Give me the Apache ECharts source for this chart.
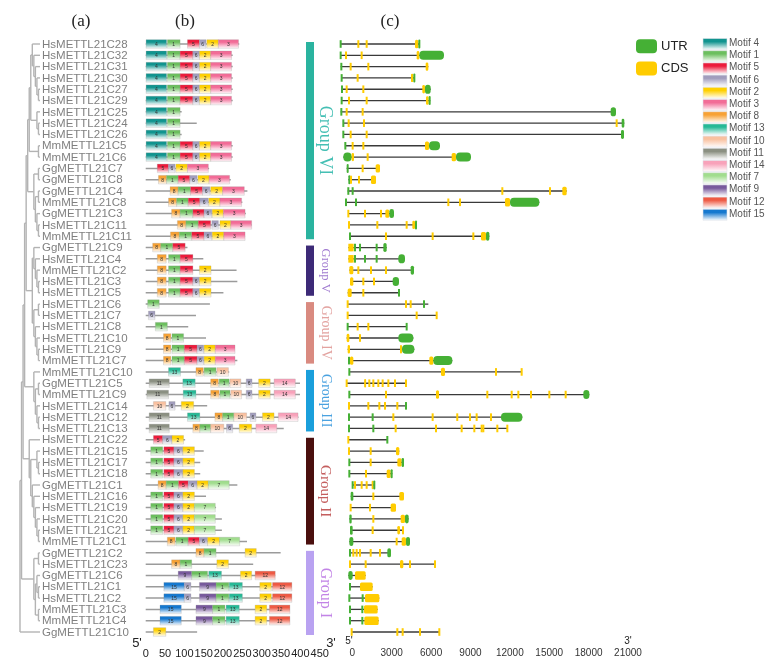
<!DOCTYPE html>
<html><head><meta charset="utf-8">
<script src="https://cdn.jsdelivr.net/npm/echarts@6/dist/echarts.min.js"></script>
<style>html,body{margin:0;padding:0;background:#fff}#c{width:779px;height:671px}</style>
</head><body><div id="c"></div><script>
// ---------------- DATA ----------------
const geneNames = ['HsMETTL21C28','HsMETTL21C32','HsMETTL21C31','HsMETTL21C30','HsMETTL21C27','HsMETTL21C29','HsMETTL21C25','HsMETTL21C24','HsMETTL21C26','MmMETTL21C5','MmMETTL21C6','GgMETTL21C7','GgMETTL21C8','GgMETTL21C4','MmMETTL21C8','GgMETTL21C3','HsMETTL21C11','MmMETTL21C11','GgMETTL21C9','HsMETTL21C4','MmMETTL21C2','HsMETTL21C3','HsMETTL21C5','HsMETTL21C6','HsMETTL21C7','HsMETTL21C8','HsMETTL21C10','HsMETTL21C9','MmMETTL21C7','MmMETTL21C10','GgMETTL21C5','MmMETTL21C9','HsMETTL21C14','HsMETTL21C12','HsMETTL21C13','HsMETTL21C22','HsMETTL21C15','HsMETTL21C17','HsMETTL21C18','GgMETTL21C1','HsMETTL21C16','HsMETTL21C19','HsMETTL21C20','HsMETTL21C21','MmMETTL21C1','GgMETTL21C2','HsMETTL21C23','GgMETTL21C6','HsMETTL21C1','HsMETTL21C2','MmMETTL21C3','MmMETTL21C4','GgMETTL21C10'];

// phylogenetic tree topology (leaf = row index)
const cladeVIa = [0,[1,[2,[3,[4,5]]]]];
const cladeVIb = [6,[7,8]];
const cladeVIc = [[cladeVIa, cladeVIb],[9,10]];
const cladeVId = [[11,12],[[13,14],[15,[16,17]]]];
const cladeVI = [cladeVIc, cladeVId];
const cladeV = [18,[19,[20,[21,22]]]];
const cladeIV = [[23,24],[25,[26,[27,28]]]];
const cladeIII = [29,[[30,31],[32,[33,34]]]];
const cladeII = [35,[[36,[37,38]],[39,[40,[41,[42,[43,44]]]]]]];
const cladeI = [[45,46],[[47,[48,49]],[50,51]]];
const cladeUpper = [[cladeVI,[cladeV,cladeIV]],cladeIII];
const treeRoot = [[[cladeUpper,cladeII],cladeI],52];

// protein lengths (aa)
const proteinLength = [242,225,225,225,225,225,93,132,93,225,225,164,220,263,250,259,274,257,108,149,235,237,201,166,130,110,156,231,237,216,399,399,159,395,357,102,150,141,141,237,156,182,197,197,262,349,278,335,378,378,373,373,133];

// motif hits per protein: [motif, start, end]
const mFull = [[4,1,54],[1,56,89],[5,89,122],[6,122,139],[2,139,168],[3,168,222]];
const mShort = [[4,1,54],[1,56,89]];
const mII = [[1,13,44],[5,47,73],[6,73,96],[2,96,126]];
const mII7 = [[1,13,44],[5,47,73],[6,73,96],[2,96,126],[7,126,180]];
const mV = [[8,30,53],[1,59,89],[5,89,122],[6,122,139],[2,139,169]];
const mIV = [[8,46,65],[1,68,100],[5,100,133],[6,133,150],[2,151,180],[3,180,231]];
const mHs12 = [[15,47,100],[6,100,117],[9,139,182],[1,182,215],[13,216,250],[2,295,325],[12,328,378]];
const mMm34 = [[15,37,92],[9,130,173],[1,173,205],[13,208,242],[2,283,313],[12,320,373]];
const motifHits = [
  [[4,1,54],[1,56,89],[5,108,139],[6,139,156],[2,158,188],[3,188,240]],
  mFull, mFull, mFull, mFull, mFull,
  mShort, mShort, mShort,
  mFull, mFull,
  [[5,30,59],[6,59,76],[2,78,108],[3,108,162]],
  [[8,33,54],[1,54,84],[5,84,114],[6,114,133],[2,135,164],[3,164,217]],
  [[8,63,84],[1,84,116],[5,116,147],[6,147,166],[2,168,199],[3,199,255]],
  [[8,59,80],[1,80,110],[5,110,140],[6,140,162],[2,163,192],[3,192,248]],
  [[8,67,89],[1,89,122],[5,122,151],[6,151,171],[2,172,201],[3,201,257]],
  [[8,82,104],[1,104,136],[5,136,168],[6,171,188],[2,192,220],[3,220,274]],
  [[8,64,87],[1,87,119],[5,119,151],[6,151,171],[2,172,202],[3,202,257]],
  [[8,18,39],[1,39,70],[5,70,102]],
  [[8,30,53],[1,59,89],[5,89,122]],
  [[8,30,53],[1,59,89],[5,89,122],[2,139,169]],
  mV, mV,
  [[1,5,35]],
  [[6,7,24]],
  [[1,25,56]],
  [[8,46,65],[1,68,98]],
  mIV, mIV,
  [[13,59,90],[8,130,149],[1,151,182],[10,184,214]],
  [[11,9,61],[13,96,128],[8,168,188],[1,190,216],[10,218,246],[6,260,275],[2,292,322],[14,332,387]],
  [[11,3,59],[13,97,130],[8,168,190],[1,192,218],[10,220,248],[6,260,275],[2,292,322],[14,332,387]],
  [[10,20,52],[6,60,76],[2,92,124]],
  [[11,9,61],[13,108,140],[8,179,199],[1,199,228],[10,228,261],[6,270,285],[2,302,332],[14,343,394]],
  [[11,9,61],[8,122,140],[1,140,168],[10,168,202],[6,209,225],[2,242,274],[14,285,339]],
  [[5,20,44],[6,44,68],[2,68,98]],
  mII, mII, mII,
  [[8,32,53],[1,53,85],[5,85,110],[6,110,133],[2,133,162],[7,162,216]],
  mII,
  mII7, mII7, mII7,
  [[8,56,76],[1,78,110],[5,110,139],[6,139,160],[2,160,191],[7,191,243]],
  [[8,130,151],[1,151,182],[2,257,286]],
  [[8,67,89],[1,89,119],[2,184,214]],
  [[9,84,119],[1,119,160],[13,163,196],[2,245,274],[12,283,335]],
  mHs12, mHs12,
  mMm34, mMm34,
  [[2,20,52]]
];

// gene structure (bp): span and exons ['U'|'C', start, end?]
const geneStart = [-937,-937,-886,-835,-785,-810,-886,-683,-683,-531,-683,-429,-302,-353,-480,-302,-252,-226,-302,-302,-226,-175,-353,-353,-353,-353,-429,-353,-252,-226,-429,-226,-252,-252,-252,-302,-252,-226,-226,27,-125,-125,-226,-175,-226,-175,-175,-302,-175,-226,-175,-175,-48];
const geneEnd = [5156,6985,5791,4776,5969,5943,20085,20720,20695,6680,9041,2110,1805,16328,14246,3176,4903,10438,2618,4014,4700,3557,3557,5791,6426,4141,4649,4725,7619,12901,4090,18055,4090,12951,11809,2668,3582,3938,3049,1653,3938,3328,4293,3938,4395,2948,6299,1018,1551,2059,1932,2008,6629];
const geneExons = [
  [['U',-886],['C',459],['C',1094],['C',4776,5030],['U',5030,5156]],
  [['U',-886],['C',-480],['C',713],['C',4903,5106],['U',5106,6985]],
  [['U',-835],['C',-125],['C',1221],['C',5588,5791]],
  [['U',-810],['C',408],['C',4471,4649],['U',4649,4776]],
  [['U',-785],['C',-429],['C',840],['C',5334,5537],['U',5537,5969]],
  [['U',-810],['C',-252],['C',1094],['C',5613,5817],['U',5817,5943]],
  [['U',-835],['C',-429],['C',789],['U',19680,20085]],
  [['U',-683],['C',-277],['C',891],['C',20137],['U',20518,20720]],
  [['U',-683],['C',-125],['C',1094],['U',20467,20695]],
  [['U',-531],['C',27],['C',840],['C',5537,5842],['U',5842,6680]],
  [['U',-683,-48],['C',-48,129],['C',1170],['C',7568,7898],['U',7898,9041]],
  [['U',-429,-277],['C',789],['C',1780,2110]],
  [['U',-302,-175],['C',-175,-99],['C',510],['C',1424,1805]],
  [['U',-302],['U',27],['C',11428],['C',15058],['C',15998,16328]],
  [['U',-480],['U',282],['C',7314],['C',8203],['C',11631,12012],['U',12012,14246]],
  [['C',-302],['C',967],['C',2186],['C',2516,2821],['U',2821,3176]],
  [['C',-252],['C',1906],['C',4141],['C',4573,4776],['U',4776,4903]],
  [['U',-175],['C',2567],['C',6121],['C',9219],['C',9803,10184],['U',10184,10438]],
  [['C',-226],['C',-99],['C',27],['U',205],['U',586],['U',1856],['U',2364,2618]],
  [['C',-226],['C',-99],['C',27],['U',205],['U',967],['U',1856],['U',3506,4014]],
  [['C',-226,79],['C',459],['C',1424],['C',2567],['U',4446,4700]],
  [['C',-175,79],['C',840],['C',1653],['U',3074,3557]],
  [['C',-353,-48],['C',840],['U',3557]],
  [['C',-353],['C',4090],['C',4446],['U',5461]],
  [['C',-353],['C',4903],['C',6426]],
  [['U',-353],['C',408],['C',1221],['U',4141]],
  [['C',-429,-226],['C',586],['U',3506,4649]],
  [['C',-353,-175],['C',3633,3786],['U',3786,4725]],
  [['U',-252],['C',-175,79],['C',5867,6172],['U',6172,7619]],
  [['U',-226],['C',6756,7060],['C',10946],['C',12901]],
  [['C',-429],['C',900,1050],['C',1297],['C',1602],['C',1983],['C',2313],['C',2745],['C',3252],['C',4090]],
  [['U',-226],['C',2567],['C',6375,6604],['C',10285],['C',12139],['C',12647],['C',13612],['C',15008],['C',16252],['U',17598,18055]],
  [['C',-252],['C',1221],['C',2059],['C',2491],['C',3430],['U',4090]],
  [['U',-252],['U',1551],['C',3125],['C',6121],['C',7995],['C',8965],['C',9473],['C',10564],['U',11326,12951]],
  [['U',-252],['U',1602],['C',3303],['C',6375],['C',8330],['C',9295],['C',9854],['C',9981],['C',11047],['C',11809]],
  [['C',-302],['U',2668]],
  [['C',-252],['C',1399],['C',3328,3582]],
  [['U',-226],['C',1399],['C',3430,3760],['U',3760,3938]],
  [['U',-226],['C',1043],['C',2618,2922],['U',2922,3049]],
  [['U',27],['C',205],['C',713],['C',1094],['C',1475,1600],['U',1600,1653]],
  [['U',-125,79],['C',1602],['C',3582,3938]],
  [['C',-125],['C',1348],['C',2922,3328]],
  [['U',-226,-48],['C',1602],['C',3684,4014],['U',4014,4293]],
  [['U',-175,27],['C',1551],['C',3430,3633],['C',3786,3938]],
  [['U',-226,79],['C',3379],['C',3760,4090],['U',4090,4395]],
  [['U',-175],['C',79],['C',332],['C',586],['C',1399],['C',2110],['U',2668,2948]],
  [['C',-175],['C',1018],['C',3633,3887],['C',4395],['C',6299]],
  [['U',-302,27],['C',205,1018]],
  [['U',-175],['C',586,1551]],
  [['U',-226],['U',789],['C',967,2059]],
  [['U',-175],['U',764],['C',891,1932]],
  [['U',-175],['U',764],['C',916,2008]],
  [['C',-48],['C',3430],['C',3836],['C',5156],['C',6629]]
];

// groups
const groupNames = ['Group VI','Group V','Group IV','Group III','Group II','Group I'];
const groupFirst = [0,18,23,29,35,45];
const groupLast = [17,22,28,34,44,52];

// motif legend order and axis ticks
const motifOrder = [4,1,5,6,2,3,8,13,10,11,14,7,9,12,15];
const motifTicks = [0,50,100,150,200,250,300,350,400,450];
const bpTicks = [0,3000,6000,9000,12000,15000,18000,21000];

// ---------------- STYLES ----------------
const motifColor = {4:'#11948f',1:'#6cbf5e',5:'#ec1b3b',6:'#a19dbd',2:'#ffd000',3:'#f26c97',8:'#f7a235',13:'#26b996',10:'#f9c1a0',11:'#8b9082',14:'#f8a2ba',7:'#a1dd8e',9:'#785a9c',12:'#ee5a44',15:'#1578cf'};
const groupStyle = [
  {bar:'#2ab39f', text:'#45bfb4', size:18},
  {bar:'#3d2a77', text:'#a07ad0', size:12.5},
  {bar:'#d98a80', text:'#e3a3a0', size:14},
  {bar:'#1a9fdb', text:'#4aa2e0', size:14},
  {bar:'#4a0f0e', text:'#c45e5e', size:15},
  {bar:'#b9a2f1', text:'#c284e6', size:16}
];
const UTR = '#45b035', CDS = '#ffcc00';
const SERIF = '"Liberation Serif","DejaVu Serif",serif';
const SANS = '"Liberation Sans",Arial,sans-serif';

function grad(c){
  return new echarts.graphic.LinearGradient(0,0,0,1,[
    {offset:0,color:c},{offset:0.3,color:c},{offset:1,color:'#ffffff'}]);
}

function height(n){ return Array.isArray(n) ? 1 + Math.max(...n.map(height)) : 0; }
const rootH = height(treeRoot);

const chart = echarts.init(document.getElementById('c'), null, {renderer:'canvas'});
const TOP = 44, H = 588;
const grids = [
  {left:20, width:20, top:TOP, height:H},
  {left:145.7, width:174, top:TOP, height:H},
  {left:352.3, width:275.7, top:TOP, height:H},
  {left:306, width:8, top:TOP, height:H}
];
const yAxes = grids.map((g,k)=>({type:'category', gridIndex:k, data:geneNames, inverse:true, boundaryGap:false, show:false}));

function renderTree(params, api){
  const els = [];
  const LS = {stroke:'#b3b3b3', lineWidth:1.4};
  function walk(n){
    if (!Array.isArray(n)) { const p = api.coord([0, n]); return {x:p[0], y:p[1]}; }
    const h = height(n);
    const kids = n.map(walk);
    const x = api.coord([-h, 0])[0];
    const ys = kids.map(k=>k.y);
    const y = (Math.min(...ys)+Math.max(...ys))/2;
    els.push({type:'line', shape:{x1:x,y1:Math.min(...ys),x2:x,y2:Math.max(...ys)}, style:LS});
    kids.forEach(k=>els.push({type:'line', shape:{x1:x,y1:k.y,x2:k.x,y2:k.y}, style:LS}));
    return {x, y};
  }
  walk(treeRoot);
  geneNames.forEach((g,i)=>{
    const p = api.coord([0,i]);
    els.push({type:'text', style:{x:p[0]+2, y:p[1]+0.5, text:g, fill:'#808080', fontSize:11.5, fontFamily:SANS, align:'left', verticalAlign:'middle'}});
  });
  return {type:'group', children:els};
}

function renderMotifs(params, api){
  const i = params.dataIndex;
  const p0 = api.coord([0,i]), p1 = api.coord([proteinLength[i], i]);
  const y = p0[1];
  const els = [{type:'line', shape:{x1:p0[0],y1:y,x2:p1[0],y2:y}, style:{stroke:'#9b9b9b', lineWidth:1.5}}];
  motifHits[i].forEach(([m,s,e])=>{
    const a = api.coord([s,i])[0], b = api.coord([e,i])[0];
    els.push({type:'rect', shape:{x:a, y:y-4.3, width:b-a, height:8.6}, style:{fill:grad(motifColor[m]), stroke:'rgba(140,140,140,0.45)', lineWidth:0.5}});
    els.push({type:'text', style:{x:(a+b)/2, y:y+0.5, text:String(m), fill:'#333', fontSize:5, fontFamily:SANS, align:'center', verticalAlign:'middle'}});
  });
  return {type:'group', children:els};
}

function renderGenes(params, api){
  const i = params.dataIndex;
  const a0 = api.coord([geneStart[i], i]), a1 = api.coord([geneEnd[i], i]);
  const y = a0[1];
  const els = [{type:'line', shape:{x1:a0[0],y1:y,x2:a1[0],y2:y}, style:{stroke:'#3a3a3a', lineWidth:1.3}}];
  geneExons[i].forEach(ex=>{
    const t = ex[0], col = t==='U'?UTR:CDS;
    const xa = api.coord([ex[1], i])[0];
    if (ex.length < 3) {
      els.push({type:'rect', shape:{x:xa-1, y:y-3.8, width:2, height:7.6}, style:{fill:col}});
    } else {
      const xb = api.coord([ex[2], i])[0];
      const w = Math.max(2, xb-xa);
      const hh = t==='U' ? 9 : 8.4;
      els.push({type:'rect', shape:{x:xa, y:y-hh/2, width:w, height:hh, r: t==='U' ? Math.min(4, w/2) : Math.min(1.5, w/2)}, style:{fill:col}});
    }
  });
  return {type:'group', children:els};
}

function renderGroups(params, api){
  const g = params.dataIndex;
  const st = groupStyle[g];
  const top = api.coord([0, groupFirst[g]])[1] - 2;
  const bot = api.coord([0, groupLast[g]])[1] + 3;
  const x0 = api.coord([0,0])[0], x1 = api.coord([1,0])[0];
  const tx = api.coord([2.4,0])[0];
  return {type:'group', children:[
    {type:'rect', shape:{x:x0, y:top, width:x1-x0, height:bot-top}, style:{fill:st.bar}},
    {type:'text', x:tx, y:(top+bot)/2, rotation:-Math.PI/2, style:{x:0, y:0, text:groupNames[g], fill:st.text, fontSize:st.size, fontFamily:SERIF, align:'center', verticalAlign:'middle'}}
  ]};
}

const legendEls = [];
motifOrder.forEach((m,k)=>{
  const y = 38.5 + k*12.2;
  legendEls.push({type:'rect', shape:{x:703, y:y, width:24, height:11}, style:{fill:grad(motifColor[m]), stroke:'#dfe3ea', lineWidth:0.6}});
  legendEls.push({type:'text', style:{x:729, y:y+4.8, text:'Motif '+m, fill:'#555', fontSize:10, fontFamily:SANS, align:'left', verticalAlign:'middle'}});
});
[['UTR',UTR,39.3],['CDS',CDS,61.5]].forEach(([t,c,y])=>{
  legendEls.push({type:'rect', shape:{x:636, y:y, width:21, height:14, r:4}, style:{fill:c}});
  legendEls.push({type:'text', style:{x:661, y:y+7, text:t, fill:'#222', fontSize:13, fontFamily:SANS, align:'left', verticalAlign:'middle'}});
});
const annoEls = [
  {type:'text', style:{x:81, y:22, text:'(a)', fill:'#222', fontSize:17, fontFamily:SERIF, align:'center', verticalAlign:'middle'}},
  {type:'text', style:{x:185, y:22, text:'(b)', fill:'#222', fontSize:17, fontFamily:SERIF, align:'center', verticalAlign:'middle'}},
  {type:'text', style:{x:390, y:22, text:'(c)', fill:'#222', fontSize:17, fontFamily:SERIF, align:'center', verticalAlign:'middle'}},
  {type:'text', style:{x:137, y:643, text:"5'", fill:'#222', fontSize:13, fontFamily:SANS, align:'center', verticalAlign:'middle'}},
  {type:'text', style:{x:331, y:643, text:"3'", fill:'#222', fontSize:13, fontFamily:SANS, align:'center', verticalAlign:'middle'}},
  {type:'text', style:{x:349, y:641, text:"5'", fill:'#222', fontSize:10, fontFamily:SANS, align:'center', verticalAlign:'middle'}},
  {type:'text', style:{x:628, y:641, text:"3'", fill:'#222', fontSize:10, fontFamily:SANS, align:'center', verticalAlign:'middle'}}
];

const rows = geneNames.map((g,i)=>[0,i]);
chart.setOption({
  animation:false,
  grid: grids,
  xAxis: [
    {type:'value', gridIndex:0, min:-rootH, max:0, show:false},
    {type:'value', gridIndex:1, min:motifTicks[0], max:motifTicks[motifTicks.length-1], interval:50, offset:13,
      axisLine:{lineStyle:{color:'#bcbcbc', width:1}}, axisTick:{inside:true, length:3, lineStyle:{color:'#bcbcbc'}},
      axisLabel:{color:'#222', fontSize:11, margin:3, fontFamily:SANS, showMinLabel:true, showMaxLabel:true, hideOverlap:false,
        formatter:v=>String(v)}, splitLine:{show:false}},
    {type:'value', gridIndex:2, min:bpTicks[0], max:bpTicks[bpTicks.length-1], interval:3000, offset:13,
      axisLine:{lineStyle:{color:'#2a2a2a', width:1.5}}, axisTick:{show:false},
      axisLabel:{color:'#333', fontSize:10, margin:3, fontFamily:SANS, showMinLabel:true, showMaxLabel:true, hideOverlap:false,
        formatter:v=>String(v)}, splitLine:{show:false}},
    {type:'value', gridIndex:3, min:0, max:1, show:false}
  ],
  yAxis: yAxes,
  series: [
    {type:'custom', xAxisIndex:0, yAxisIndex:0, data:[[0,0]], renderItem:renderTree, silent:true},
    {type:'custom', xAxisIndex:1, yAxisIndex:1, data:rows, renderItem:renderMotifs, silent:true},
    {type:'custom', xAxisIndex:2, yAxisIndex:2, data:rows, renderItem:renderGenes, silent:true},
    {type:'custom', xAxisIndex:3, yAxisIndex:3, data:groupNames.map((g,k)=>[0,groupFirst[k]]), renderItem:renderGroups, silent:true}
  ],
  graphic: legendEls.concat(annoEls)
});
</script></body></html>
